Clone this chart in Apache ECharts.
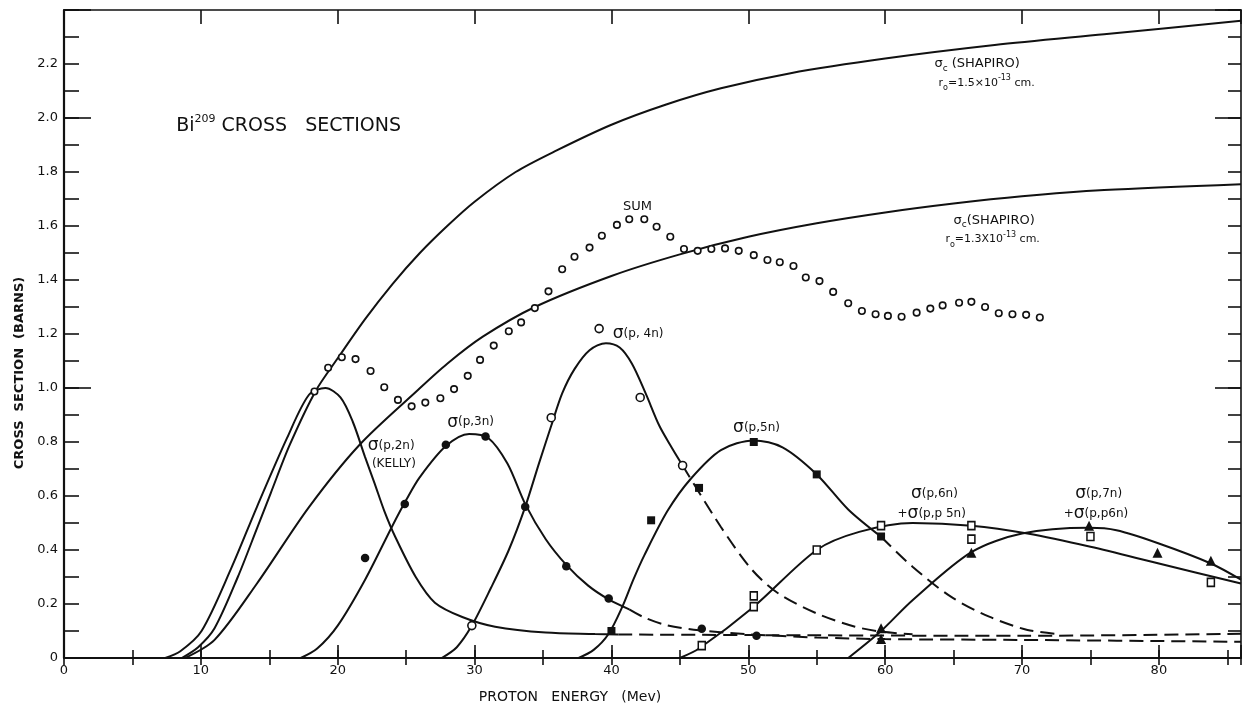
<!DOCTYPE html>
<html><head><meta charset="utf-8">
<script src="https://cdn.jsdelivr.net/npm/echarts@6/dist/echarts.min.js"></script>
<style>html,body{margin:0;padding:0;background:#fff}#c{width:1246px;height:707px}</style>
</head><body><div id="c"></div>
<script>
// ---------- data ----------
const xTickValues = [0,10,20,30,40,50,60,70,80];
const yTickLabels = {0:'0',0.2:'0.2',0.4:'0.4',0.6:'0.6',0.8:'0.8',1:'1.0',1.2:'1.2',1.4:'1.4',1.6:'1.6',1.8:'1.8',2:'2.0',2.2:'2.2'};

const sigmaC15 = [[8.6,0],[9.8,0.04],[11.0,0.11],[12.7,0.30],[14.1,0.48],[15.1,0.61],[16.5,0.79],[18.4,0.99],[20,1.11],[22,1.255],[24,1.385],[26,1.50],[28,1.60],[30,1.69],[33,1.80],[36,1.88],[40,1.975],[44,2.05],[48,2.11],[53,2.165],[60,2.22],[68,2.27],[76,2.31],[86,2.36]];
const sigmaC13 = [[8.85,0],[11.0,0.067],[14.1,0.276],[17.9,0.559],[21.6,0.79],[25.8,0.99],[28,1.09],[30.6,1.19],[34.4,1.30],[40,1.415],[45,1.495],[50,1.56],[55,1.61],[60,1.65],[65,1.683],[70,1.71],[76,1.733],[86,1.755]];

const kellySolid = [[7.4,0],[8.5,0.025],[10.05,0.10],[12.2,0.33],[14.1,0.56],[16.3,0.815],[17.9,0.975],[19.1,1.0],[20.2,0.965],[21.1,0.875],[22.0,0.744],[22.7,0.646],[23.4,0.545],[24.2,0.449],[25.7,0.30],[27.1,0.205],[29.1,0.152],[31.5,0.116],[35.2,0.094],[38.8,0.089],[40.5,0.087]];
const kellyDashed = [[40.5,0.087],[55,0.084],[70,0.082],[86,0.09]];

const p3nSolid = [[17.3,0],[18.5,0.035],[20,0.12],[22,0.29],[24,0.49],[25,0.585],[26,0.67],[27.9,0.785],[29.6,0.83],[31,0.815],[32.4,0.72],[33.7,0.57],[35.2,0.44],[36.7,0.345],[38.3,0.268],[39.8,0.217],[41.3,0.18]];
const p3nDashed = [[41.3,0.18],[42.4,0.15],[44,0.122],[46.4,0.103],[50,0.088],[55,0.076],[60,0.07],[70,0.067],[86,0.06]];
const p3nPoints = [[22.0,0.37],[24.9,0.57],[27.9,0.79],[30.8,0.82],[33.7,0.56],[36.7,0.34],[39.8,0.22],[46.6,0.108],[50.6,0.082]];

const p4nSolid = [[27.6,0],[28.7,0.04],[29.8,0.12],[31.2,0.26],[32.5,0.40],[33.7,0.56],[34.7,0.72],[35.6,0.86],[36.4,0.98],[37.3,1.07],[38.4,1.14],[39.6,1.166],[40.6,1.15],[41.5,1.09],[42.5,0.98],[43.5,0.86],[44.4,0.78],[45.2,0.713]];
const p4nDashed = [[45.2,0.713],[48.0,0.485],[50.3,0.325],[52.2,0.239],[55.0,0.165],[57.8,0.116],[59.8,0.097],[62,0.088]];
const p4nPoints = [[29.8,0.12],[35.6,0.89],[39.1,1.22],[42.1,0.965],[45.2,0.713]];

const p5nSolid = [[37.6,0],[38.7,0.03],[39.8,0.09],[40.8,0.19],[41.6,0.29],[42.4,0.38],[44.1,0.545],[45.8,0.664],[48,0.77],[50.4,0.806],[52.5,0.78],[55,0.68],[57.3,0.55],[59.7,0.449]];
const p5nDashed = [[59.7,0.449],[62.0,0.338],[64.8,0.227],[67.6,0.153],[70.4,0.104],[72.8,0.088]];
const p5nPoints = [[40.0,0.10],[42.9,0.51],[46.4,0.63],[50.4,0.80],[55.0,0.68],[59.7,0.45]];

const p6nCurve = [[45.0,0],[46.4,0.035],[50.4,0.19],[55.0,0.40],[58.1,0.467],[62.0,0.50],[66.3,0.49],[70.4,0.461],[75.0,0.412],[80.0,0.35],[86,0.276]];
const p6nPoints = [[46.6,0.046],[50.4,0.23],[50.4,0.19],[55.0,0.40],[59.7,0.49],[66.3,0.49],[66.3,0.44],[75.0,0.45],[83.8,0.28]];

const p7nCurve = [[57.3,0],[59.7,0.10],[62.0,0.214],[66.3,0.392],[70.0,0.461],[74.9,0.482],[76.9,0.473],[80.0,0.424],[83.8,0.35],[86,0.29]];
const p7nPoints = [[59.7,0.11],[59.7,0.07],[66.3,0.39],[74.9,0.49],[79.9,0.39],[83.8,0.36]];

const sumX = [18.3,19.3,20.3,21.3,22.4,23.4,24.4,25.4,26.4,27.5,28.5,29.5,30.4,31.4,32.5,33.4,34.4,35.4,36.4,37.3,38.4,39.3,40.4,41.3,42.4,43.3,44.3,45.3,46.3,47.3,48.3,49.3,50.4,51.4,52.3,53.3,54.2,55.2,56.2,57.3,58.3,59.3,60.2,61.2,62.3,63.3,64.2,65.4,66.3,67.3,68.3,69.3,70.3,71.3];
const sumY = [0.987,1.075,1.114,1.107,1.063,1.003,0.956,0.932,0.946,0.962,0.996,1.045,1.104,1.157,1.21,1.243,1.296,1.358,1.44,1.486,1.52,1.564,1.604,1.625,1.625,1.597,1.56,1.515,1.508,1.515,1.517,1.508,1.492,1.474,1.466,1.452,1.409,1.396,1.356,1.314,1.285,1.273,1.267,1.264,1.279,1.294,1.306,1.316,1.319,1.30,1.277,1.273,1.271,1.261];

// ---------- chart ----------
const FONT = 'DejaVu Sans';
const INK = '#111';
const chart = echarts.init(document.getElementById('c'), null, {renderer:'canvas'});

function curve(data, dashed){
  return {type:'line', data, xAxisIndex:0, yAxisIndex:0, smooth:0.3, showSymbol:false, silent:true,
    lineStyle:{color:INK, width:2, type: dashed ? [14,7] : 'solid'}, z:2};
}
function pts(data, symbol, size, filled){
  return {type:'scatter', data, xAxisIndex:0, yAxisIndex:0, symbol, symbolSize:size, silent:true,
    itemStyle:{color: filled ? INK : '#fff', borderColor:INK, borderWidth: filled ? 0 : 1.6, opacity:1}, z:5};
}
const hiddenX = (pos, interval, len) => ({type:'value', min:0, max:86, interval, position:pos,
  axisLine:{show:false}, axisLabel:{show:false}, splitLine:{show:false},
  axisTick:{show:true, inside:true, length:len, lineStyle:{color:INK, width:1.6}}});
const hiddenY = (pos, interval, len, line) => ({type:'value', min:0, max:2.4, interval, position:pos,
  axisLine:{show:line, onZero:false, lineStyle:{color:INK, width:1.6}}, axisLabel:{show:false}, splitLine:{show:false},
  axisTick:{show:true, inside:true, length:len, lineStyle:{color:INK, width:1.6}}});

const xTop = hiddenX('top', 10, 14); xTop.axisLine = {show:true, onZero:false, lineStyle:{color:INK, width:1.6}};

chart.setOption({
  animation:false,
  backgroundColor:'#fff',
  grid:{left:64, right:5, top:10, bottom:49, containLabel:false},
  xAxis:[
    {type:'value', min:0, max:86, interval:10, position:'bottom',
      axisLine:{show:true, onZero:false, lineStyle:{color:INK, width:2.2}},
      axisTick:{show:true, inside:true, length:13, lineStyle:{color:INK, width:1.6}},
      axisLabel:{show:true, color:INK, fontFamily:FONT, fontSize:13, margin:6,
        formatter: v => xTickValues.includes(v) ? String(v) : ''},
      splitLine:{show:false}},
    hiddenX('bottom', 5, 8),
    xTop,
    hiddenX('top', 5, 7)
  ],
  yAxis:[
    {type:'value', min:0, max:2.4, interval:0.2, position:'left',
      axisLine:{show:true, onZero:false, lineStyle:{color:INK, width:2.2}},
      axisTick:{show:true, inside:true, length:15, lineStyle:{color:INK, width:1.6}},
      minorTick:{show:true, splitNumber:2, length:15, lineStyle:{color:INK, width:1.6}},
      axisLabel:{color:INK, fontFamily:FONT, fontSize:13, margin:6,
        formatter: v => { const k = Math.round(v*10)/10; return yTickLabels[k] !== undefined ? yTickLabels[k] : ''; }},
      splitLine:{show:false}},
    hiddenY('left', 1, 27, false),
    hiddenY('right', 0.1, 13, true),
    hiddenY('right', 1, 26, false)
  ],
  series:[
    curve(sigmaC15), curve(sigmaC13),
    curve(kellySolid), curve(kellyDashed, true),
    curve(p3nSolid), curve(p3nDashed, true),
    curve(p4nSolid), curve(p4nDashed, true),
    curve(p5nSolid), curve(p5nDashed, true),
    curve(p6nCurve), curve(p7nCurve),
    pts(sumX.map((x,i)=>[x,sumY[i]]), 'circle', 6.5, false),
    pts(p3nPoints, 'circle', 8.5, true),
    pts(p4nPoints, 'circle', 8, false),
    pts(p5nPoints, 'rect', 8, true),
    pts(p6nPoints, 'rect', [7,8], false),
    pts(p7nPoints, 'triangle', 10, true)
  ]
});

// ---------- annotations ----------
const rich = {
  s:{fontFamily:FONT, fontSize:17, color:INK, lineHeight:20},
  n:{fontFamily:FONT, fontSize:12, color:INK, lineHeight:20},
  t:{fontFamily:FONT, fontSize:19, color:INK, lineHeight:24},
  sup:{fontFamily:FONT, fontSize:11, color:INK, lineHeight:12, verticalAlign:'top'},
  sub:{fontFamily:FONT, fontSize:9, color:INK, lineHeight:10, verticalAlign:'bottom'},
  m:{fontFamily:FONT, fontSize:13, color:INK, lineHeight:18},
  sm:{fontFamily:FONT, fontSize:11, color:INK, lineHeight:18},
  ssup:{fontFamily:FONT, fontSize:8, color:INK, lineHeight:8, verticalAlign:'top'},
  ssub:{fontFamily:FONT, fontSize:8, color:INK, lineHeight:8, verticalAlign:'bottom'}
};
const notes = [
  {text:'{t|Bi}{sup|209}{t| CROSS   SECTIONS}', x:8.2, y:1.97, align:'left'},
  {text:'{m|SUM}', x:41.9, y:1.67, align:'center'},
  {text:'{s|σ}{n|(p, 4n)}', x:40.1, y:1.20, align:'left'},
  {text:'{s|σ}{n|(p,3n)}', x:28.0, y:0.873, align:'left'},
  {text:'{s|σ}{n|(p,2n)}', x:22.2, y:0.787, align:'left'},
  {text:'{n|(KELLY)}', x:22.5, y:0.72, align:'left'},
  {text:'{s|σ}{n|(p,5n)}', x:50.6, y:0.853, align:'center'},
  {text:'{s|σ}{n|(p,6n)}', x:63.6, y:0.609, align:'center'},
  {text:'{n|+}{s|σ}{n|(p,p 5n)}', x:63.4, y:0.535, align:'center'},
  {text:'{s|σ}{n|(p,7n)}', x:75.6, y:0.609, align:'center'},
  {text:'{n|+}{s|σ}{n|(p,p6n)}', x:75.4, y:0.535, align:'center'},
  {text:'{m|σ}{sub|c}{m| (SHAPIRO)}', x:63.6, y:2.2, align:'left'},
  {text:'{sm|r}{ssub|o}{sm|=1.5×10}{ssup|-13}{sm| cm.}', x:63.9, y:2.13, align:'left'},
  {text:'{m|σ}{sub|c}{m|(SHAPIRO)}', x:65.0, y:1.62, align:'left'},
  {text:'{sm|r}{ssub|o}{sm|=1.3X10}{ssup|-13}{sm| cm.}', x:64.4, y:1.55, align:'left'}
];
const graphics = notes.map(n => {
  const p = chart.convertToPixel({gridIndex:0}, [n.x, n.y]);
  return {type:'text', x:p[0], y:p[1], z:10, silent:true,
    style:{text:n.text, rich, align:n.align, verticalAlign:'middle', fill:INK}};
});
graphics.push({type:'text', x:20, y:373, rotation:Math.PI/2, z:10, silent:true,
  style:{text:'CROSS  SECTION  (BARNS)', fontFamily:FONT, fontSize:13, fontWeight:'bold', fill:INK, align:'center', verticalAlign:'middle'}});
graphics.push({type:'text', x:570, y:697, z:10, silent:true,
  style:{text:'PROTON   ENERGY   (Mev)', fontFamily:FONT, fontSize:14, fill:INK, align:'center', verticalAlign:'middle'}});
chart.setOption({graphic:graphics});
</script>
</body></html>
